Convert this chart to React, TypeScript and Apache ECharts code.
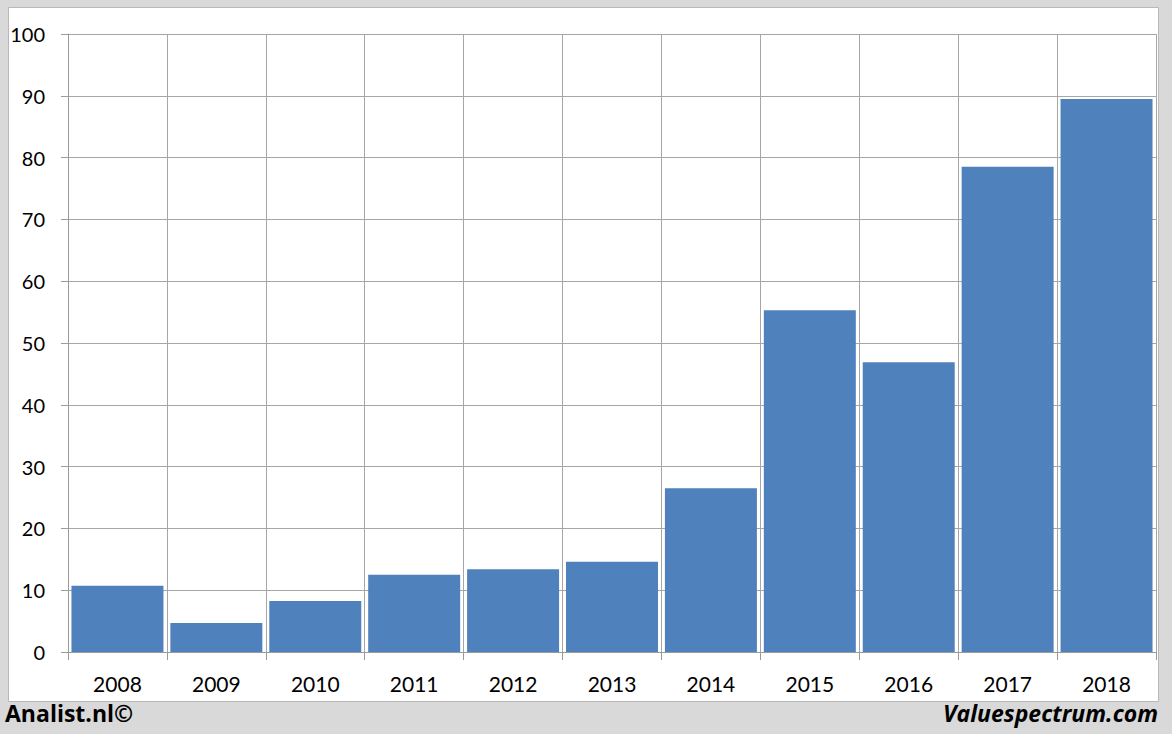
import React, { useEffect, useRef } from "react";
import * as echarts from "echarts";

const years = ["2008", "2009", "2010", "2011", "2012", "2013", "2014", "2015", "2016", "2017", "2018"];
const values = [10.7, 4.7, 8.25, 12.5, 13.4, 14.6, 26.5, 55.3, 46.9, 78.5, 89.5];
const leftFooter = "Analist.nl©";
const rightFooter = "Valuespectrum.com";

export default function App() {
  const ref = useRef<HTMLDivElement>(null);
  useEffect(() => {
    if (!ref.current) return;
    const chart = echarts.init(ref.current, null, { renderer: "svg" });
    const font = "Lato, 'Open Sans', sans-serif";
    const footFont = "'Open Sans', Lato, sans-serif";
    chart.setOption({
      animation: false,
      backgroundColor: "#d9d9d9",
      graphic: [
        {
          type: "rect",
          z: -10,
          shape: { x: 8.5, y: 7.5, width: 1150, height: 694 },
          style: { fill: "#ffffff", stroke: "#b8b8b8", lineWidth: 1 },
        },
        {
          type: "text",
          left: 5,
          top: 701,
          style: { text: leftFooter, font: `bold 23px ${footFont}`, fill: "#000" },
        },
        {
          type: "text",
          right: 14,
          top: 701,
          style: { text: rightFooter, font: `italic bold 23px ${footFont}`, fill: "#000" },
        },
      ],
      grid: { left: 68, right: 16, top: 34, bottom: 82, containLabel: false },
      xAxis: {
        type: "category",
        data: years,
        boundaryGap: true,
        axisLine: { show: true, lineStyle: { color: "#9a9a9a", width: 1 } },
        axisTick: { show: true, length: 8, lineStyle: { color: "#9a9a9a" } },
        splitLine: { show: true, lineStyle: { color: "#a6a6a6", width: 1 } },
        axisLabel: { color: "#000", fontSize: 21, fontFamily: font, margin: 21 },
      },
      yAxis: {
        type: "value",
        min: 0,
        max: 100,
        interval: 10,
        axisLine: { show: true, lineStyle: { color: "#9a9a9a", width: 1 } },
        axisTick: { show: true, length: 7, lineStyle: { color: "#9a9a9a" } },
        splitLine: { show: true, lineStyle: { color: "#a6a6a6", width: 1 } },
        axisLabel: { color: "#000", fontSize: 20, fontFamily: font, margin: 23 },
      },
      series: [
        {
          type: "bar",
          data: values,
          barCategoryGap: "7%",
          itemStyle: { color: "#4f81bd" },
        },
      ],
    });
    return () => chart.dispose();
  }, []);
  return (
    <div
      ref={ref}
      style={{ position: "absolute", left: 0, top: 0, width: 1172, height: 734 }}
    />
  );
}
